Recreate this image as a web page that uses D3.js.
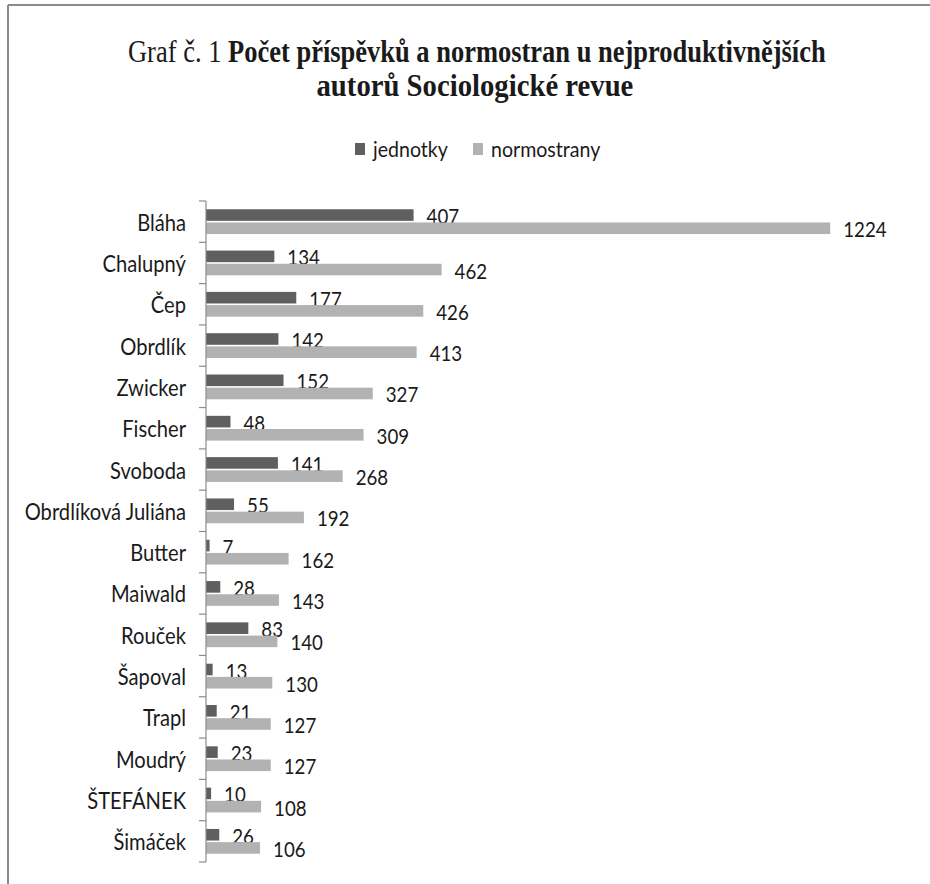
<!DOCTYPE html>
<html>
<head>
<meta charset="utf-8">
<script src="https://cdn.jsdelivr.net/npm/d3@7"></script>
<style>
  body { margin: 0; background: #fff; }
  text { fill: #1a1a1a; }
</style>
</head>
<body>
<div id="chart"></div>
<script>
// authors, top to bottom
const authors = ["Bláha", "Chalupný", "Čep", "Obrdlík", "Zwicker", "Fischer", "Svoboda",
  "Obrdlíková Juliána", "Butter", "Maiwald", "Rouček", "Šapoval", "Trapl", "Moudrý",
  "ŠTEFÁNEK", "Šimáček"];
const jednotky = [407, 134, 177, 142, 152, 48, 141, 55, 7, 28, 83, 13, 21, 23, 10, 26];
const normostrany = [1224, 462, 426, 413, 327, 309, 268, 192, 162, 143, 140, 130, 127, 127, 108, 106];
const seriesNames = ["jednotky", "normostrany"];
const colors = ["#5f5f5f", "#b2b2b2"];

const width = 930, height = 884;
const svg = d3.select("#chart").append("svg").attr("width", width).attr("height", height);

// narrow text: the original is squeezed horizontally
function label(parent, x, y, str, size, sx, anchor) {
  return parent.append("text")
    .attr("transform", `translate(${x},${y}) scale(${sx},1)`)
    .attr("text-anchor", anchor || "start")
    .attr("font-family", "Lato").attr("font-size", size)
    .text(str);
}

// frame (top and left edges visible)
svg.append("line").attr("x1", 8).attr("x2", width).attr("y1", 5).attr("y2", 5)
  .attr("stroke", "#8a8a8a").attr("stroke-width", 2);
svg.append("line").attr("x1", 8).attr("x2", 8).attr("y1", 5).attr("y2", height)
  .attr("stroke", "#8a8a8a").attr("stroke-width", 2);

// title, squeezed to the width of the original lines
function titleLine(parts, cx, y, targetW) {
  const tg = svg.append("g");
  let pos = 0;
  parts.forEach((p, i) => {
    const t = tg.append("text").attr("x", pos).attr("y", 0)
      .attr("font-family", "Liberation Serif").attr("font-size", 32)
      .attr("font-weight", p.bold ? "bold" : "normal").text(p.text);
    pos += t.node().getComputedTextLength() + (i < parts.length - 1 ? 8 : 0);
  });
  const sx = targetW / pos;
  tg.attr("transform", `translate(${cx - targetW / 2},${y}) scale(${sx},1)`);
}
titleLine([{ text: "Graf č. 1" }, { text: "Počet příspěvků a normostran u nejproduktivnějších", bold: true }], 477, 62, 698);
titleLine([{ text: "autorů Sociologické revue", bold: true }], 475, 96, 317);

// legend
const legendX = [355, 473];
seriesNames.forEach((s, i) => {
  svg.append("rect").attr("x", legendX[i]).attr("y", 143).attr("width", 10).attr("height", 12)
    .attr("fill", colors[i]);
  label(svg, legendX[i] + 18, 157, s, 22, 0.89);
});

// scales
const x = d3.scaleLinear().domain([0, 1400]).range([206, 920]);
const y = d3.scaleBand().domain(authors).range([201, 862]).paddingInner(0.4).paddingOuter(0.2);
const ySub = d3.scaleBand().domain(seriesNames).range([0, y.bandwidth()]).paddingInner(0.12);

const rows = authors.map((a, i) => ({ name: a, values: [jednotky[i], normostrany[i]] }));

// bars + value labels
const g = svg.append("g");
rows.forEach(r => {
  r.values.forEach((v, j) => {
    const yy = y(r.name) + ySub(seriesNames[j]);
    g.append("rect").attr("x", x(0)).attr("y", yy)
      .attr("width", x(v) - x(0)).attr("height", ySub.bandwidth()).attr("fill", colors[j]);
    label(g, x(v) + 13, yy + ySub.bandwidth() / 2 + 9, v, 22, 0.85);
  });
});

// category axis with ticks between categories
const axis = svg.append("g");
axis.append("line").attr("x1", x(0)).attr("x2", x(0))
  .attr("y1", y.range()[0]).attr("y2", y.range()[1]).attr("stroke", "#8c8c8c").attr("stroke-width", 1.2);
d3.range(authors.length + 1).forEach(i => {
  const yy = y.range()[0] + i * y.step();
  axis.append("line").attr("x1", x(0) - 7).attr("x2", x(0)).attr("y1", yy).attr("y2", yy)
    .attr("stroke", "#8c8c8c").attr("stroke-width", 1.2);
});
authors.forEach(a => {
  label(axis, 186, y(a) + y.bandwidth() / 2 + 9, a, 24, 0.84, "end");
});
</script>
</body>
</html>
